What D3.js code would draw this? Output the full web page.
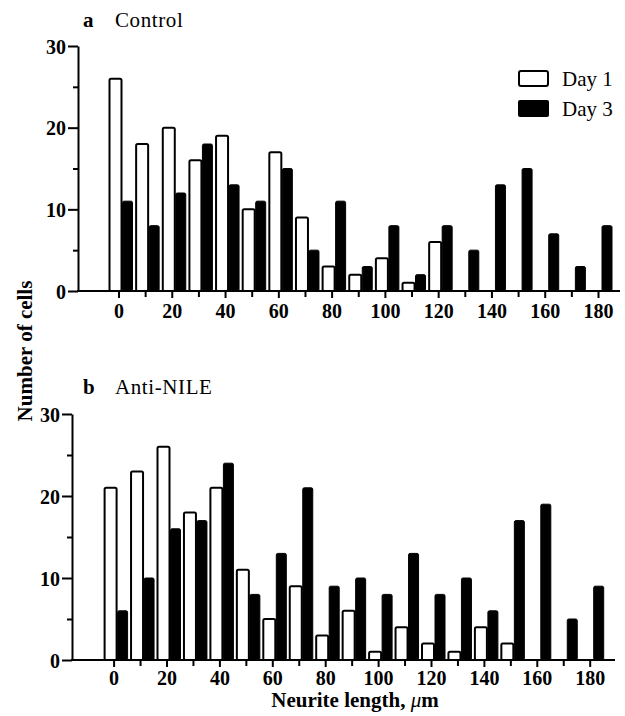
<!DOCTYPE html>
<html>
<head>
<meta charset="utf-8">
<script src="https://cdn.jsdelivr.net/npm/d3@7"></script>
<style>
  body { margin: 0; background: #fff; }
  svg text { font-family: "Liberation Serif", "Times New Roman", serif; fill: #000; }
  .tick text { font-weight: bold; font-size: 20px; }
  .domain, .tick line { stroke: #000; stroke-width: 2; }
</style>
</head>
<body>
<div id="chart"></div>
<script>
// neurite length bins (um)
var bins = [0, 10, 20, 30, 40, 50, 60, 70, 80, 90, 100, 110, 120, 130, 140, 150, 160, 170, 180];

// a  Control
var controlDay1 = [26, 18, 20, 16, 19, 10, 17, 9, 3, 2, 4, 1, 6, 0, 0, 0, 0, 0, 0];
var controlDay3 = [11, 8, 12, 18, 13, 11, 15, 5, 11, 3, 8, 2, 8, 5, 13, 15, 7, 3, 8];

// b  Anti-NILE
var nileDay1 = [21, 23, 26, 18, 21, 11, 5, 9, 3, 6, 1, 4, 2, 1, 4, 2, 0, 0, 0];
var nileDay3 = [6, 10, 16, 17, 24, 8, 13, 21, 9, 10, 8, 13, 8, 10, 6, 17, 19, 5, 9];

var xTicks = [0, 20, 40, 60, 80, 100, 120, 140, 160, 180];
var yTicks = [0, 10, 20, 30];

var svgWidth = 625;
var svgHeight = 716;

var svg = d3.select("#chart")
  .append("svg")
  .attr("width", svgWidth)
  .attr("height", svgHeight);

// each panel: where the axes sit
var panels = [
  { label: "a", title: "Control", day1: controlDay1, day3: controlDay3,
    yAxisX: 78, top: 46, bottom: 291, x0: 118.5, x180: 598, axisEnd: 620, titleY: 27, pad: 6 },
  { label: "b", title: "Anti-NILE", day1: nileDay1, day3: nileDay3,
    yAxisX: 72, top: 414, bottom: 660, x0: 113.6, x180: 589.7, axisEnd: 615, titleY: 394, pad: 4 }
];

panels.forEach(function(p) {
  var x = d3.scaleLinear().domain([0, 180]).range([p.x0, p.x180]);
  var y = d3.scaleLinear().domain([0, 30]).range([p.bottom, p.top]);

  var g = svg.append("g");

  // Day 1 = open bars, Day 3 = filled bars, side by side
  g.selectAll(".d1")
    .data(bins)
    .enter()
    .append("rect")
    .attr("x", function(d) { return x(d) - 9; })
    .attr("y", function(d, i) { return y(p.day1[i]); })
    .attr("width", 12)
    .attr("height", function(d, i) { return p.bottom - y(p.day1[i]); })
    .attr("rx", 1.5)
    .attr("fill", "#fff")
    .attr("stroke", "#000")
    .attr("stroke-width", 2)
    .style("display", function(d, i) { return p.day1[i] > 0 ? null : "none"; });

  g.selectAll(".d3")
    .data(bins)
    .enter()
    .append("rect")
    .attr("x", function(d) { return x(d) + 4; })
    .attr("y", function(d, i) { return y(p.day3[i]); })
    .attr("width", 10)
    .attr("height", function(d, i) { return p.bottom - y(p.day3[i]); })
    .attr("rx", 1.5)
    .attr("fill", "#000")
    .attr("stroke", "#000")
    .attr("stroke-width", 1);

  // y axis with minor ticks at the 5s
  var yAxis = g.append("g")
    .attr("transform", "translate(" + p.yAxisX + ",0)")
    .call(d3.axisLeft(y).tickValues(yTicks).tickSize(10).tickPadding(2).tickSizeOuter(0));
  yAxis.selectAll(".tick text").attr("dy", "0.36em");

  g.append("g")
    .attr("transform", "translate(" + p.yAxisX + ",0)")
    .call(d3.axisLeft(y).tickValues([5, 15, 25]).tickSize(5).tickFormat(""))
    .select(".domain").remove();

  // x axis line from the y axis to the right end
  g.append("line")
    .attr("x1", p.yAxisX - 1)
    .attr("x2", p.axisEnd)
    .attr("y1", p.bottom)
    .attr("y2", p.bottom)
    .attr("stroke", "#000")
    .attr("stroke-width", 2);

  var xAxis = g.append("g")
    .attr("transform", "translate(0," + p.bottom + ")")
    .call(d3.axisBottom(x).tickValues(xTicks).tickSize(7).tickPadding(p.pad));
  xAxis.select(".domain").remove();

  g.append("g")
    .attr("transform", "translate(0," + p.bottom + ")")
    .call(d3.axisBottom(x).tickValues(d3.range(10, 180, 20)).tickSize(6).tickFormat(""))
    .select(".domain").remove();

  // panel title
  g.append("text")
    .attr("x", 83)
    .attr("y", p.titleY)
    .attr("font-size", 21)
    .attr("font-weight", "bold")
    .text(p.label);
  g.append("text")
    .attr("x", 115)
    .attr("y", p.titleY)
    .attr("font-size", 21)
    .attr("letter-spacing", 0.6)
    .text(p.title);
});

// legend
var legend = svg.append("g");
legend.append("rect")
  .attr("x", 519).attr("y", 71).attr("width", 29).attr("height", 15).attr("rx", 2)
  .attr("fill", "#fff").attr("stroke", "#000").attr("stroke-width", 2);
legend.append("rect")
  .attr("x", 518).attr("y", 100).attr("width", 31).attr("height", 17).attr("rx", 2)
  .attr("fill", "#000");
legend.append("text").attr("x", 562).attr("y", 86).attr("font-size", 21).text("Day 1");
legend.append("text").attr("x", 562).attr("y", 116).attr("font-size", 21).text("Day 3");

// shared y label
svg.append("text")
  .attr("transform", "translate(32,351)rotate(-90)")
  .attr("text-anchor", "middle")
  .attr("font-size", 21)
  .attr("font-weight", "bold")
  .text("Number of cells");

// x label
svg.append("text")
  .attr("x", 355)
  .attr("y", 707)
  .attr("text-anchor", "middle")
  .attr("font-size", 21)
  .attr("font-weight", "bold")
  .html("Neurite length, <tspan font-style='italic' font-weight='normal'>\u03bc</tspan>m");
</script>
</body>
</html>
